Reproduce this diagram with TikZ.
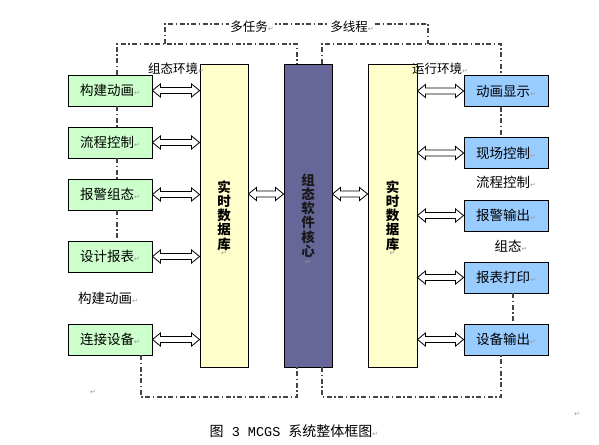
\documentclass[tikz,border=0pt]{standalone}
\usepackage{fontspec}
\setmainfont{Noto Sans CJK SC}
\newfontfamily\dejavu{DejaVu Sans}
\newfontfamily\monofam{Liberation Mono}
\usetikzlibrary{calc}
\definecolor{boxgreen}{HTML}{CCFFCC}
\definecolor{boxblue}{HTML}{99CCFF}
\definecolor{dbyellow}{HTML}{FFFFCC}
\definecolor{corepurple}{HTML}{666699}
\definecolor{dashgray}{HTML}{444444}
\newcommand\retmark{{\dejavu\color{gray!80}\fontsize{7}{7}\selectfont ↵}}
\tikzset{
  lbox/.style={draw=black, line width=0.9pt, fill=boxgreen, minimum width=84pt, minimum height=31pt, inner sep=0pt, font=\fontsize{13.5}{14}\selectfont},
  rbox/.style={lbox, fill=boxblue},
  dbbox/.style={draw=black, line width=0.9pt, fill=dbyellow, minimum width=48pt, minimum height=303pt, inner sep=0pt, align=center, font=\fontsize{13.5}{14.2}\selectfont\bfseries},
  corebox/.style={dbbox, fill=corepurple, text=black!90},
  blockarrow/.style={draw=black, fill=white, line width=0.8pt, line join=miter,
    to path={let \p1=(\tikztostart), \p2=(\tikztotarget) in
      -- (\x1+8pt,\y1+6.5pt) -- (\x1+8pt,\y1+3pt) -- (\x2-8pt,\y1+3pt) -- (\x2-8pt,\y1+6.5pt)
      -- (\x2,\y1) -- (\x2-8pt,\y1-6.5pt) -- (\x2-8pt,\y1-3pt) -- (\x1+8pt,\y1-3pt)
      -- (\x1+8pt,\y1-6.5pt) -- cycle}},
  dashdot/.style={draw=dashgray, line width=1.1pt, dash pattern=on 5pt off 2.5pt on 1.5pt off 2.5pt},
  lbl/.style={inner sep=1pt, font=\fontsize{12.5}{13}\selectfont},
  plain/.style={inner sep=1pt, font=\fontsize{13.5}{14}\selectfont}
}
\begin{document}
\begin{tikzpicture}[x=1pt,y=-1pt]
\useasboundingbox (0,0) rectangle (599,444);
% databases and core
\node[dbbox] (db1) at (224,215.5) {实\\时\\数\\据\\库};
\node[corebox] (core) at (308,215.5) {组\\态\\软\\件\\核\\心};
\node[dbbox, minimum width=49pt] (db2) at (392.5,215.5) {实\\时\\数\\据\\库};
\node (m1) at (224,253) {\retmark};
\node (m2) at (308,262) {\retmark};
\node (m3) at (392.5,253) {\retmark};
% left boxes
\node[lbox] (b1) at (110,90.5) {构建动画\retmark};
\node[lbox] (b2) at (110,142.5) {流程控制\retmark};
\node[lbox] (b3) at (110,194.5) {报警组态\retmark};
\node[lbox] (b4) at (110,256.5) {设计报表\retmark};
\node[lbox] (b5) at (110,339.5) {连接设备\retmark};
% right boxes
\node[rbox] (r1) at (506,91) {动画显示\retmark};
\node[rbox] (r2) at (506,153) {现场控制\retmark};
\node[rbox] (r3) at (506,215.5) {报警输出\retmark};
\node[rbox] (r4) at (506,277.5) {报表打印\retmark};
\node[rbox] (r5) at (506,339.5) {设备输出\retmark};
% arrows
\foreach \b in {b1,b2,b3,b4,b5}{
  \draw[blockarrow] (\b.east) to (\b.east -| db1.west);
}
\foreach \r in {r1,r2,r3,r4,r5}{
  \draw[blockarrow] (\r.west -| db2.east) to (\r.west);
}
\coordinate (mid) at (0,194);
\draw[blockarrow] (db1.east |- mid) to (core.west |- mid);
\draw[blockarrow] (core.east |- mid) to (db2.west |- mid);
% dash-dot loops
\draw[dashdot] (165,44) -- (165,24) -- (428,24) -- (428,44);
\draw[dashdot] (117,0 |- b1.north) -- (117,44) -- (297,44) -- (297,0 |- core.north);
\draw[dashdot] (322,0 |- core.north) -- (322,44) -- (501,44) -- (501,0 |- r1.north);
\draw[dashdot] (117,0 |- b1.south) -- (117,0 |- b2.north);
\draw[dashdot] (117,0 |- b2.south) -- (117,0 |- b3.north);
\draw[dashdot] (117,0 |- b3.south) -- (117,0 |- b4.north);
\draw[dashdot] (501,0 |- r1.south) -- (501,0 |- r2.north);
\draw[dashdot] (513,0 |- r4.south) -- (513,0 |- r5.north);
\draw[dashdot] (141,0 |- b5.south) -- (141,397) -- (297,397) -- (297,0 |- core.south);
\draw[dashdot] (322,0 |- core.south) -- (322,397) -- (501,397) -- (501,0 |- r5.south);
% labels
\node[lbl, fill=white] (t1) at (252,27) {多任务\retmark};
\node[lbl, fill=white] (t2) at (352,27) {多线程\retmark};
\node[lbl] (t3) at (176,69) {组态环境\retmark};
\node[lbl] (t4) at (440,69) {运行环境\retmark};
\node[plain] (t5) at (506,182) {流程控制\retmark};
\node[plain] (t6) at (511,246) {组态\retmark};
\node[plain] (t7) at (108,298) {构建动画\retmark};
\node (m4) at (93,392) {\retmark};
\node (m5) at (577,414) {\retmark};
\node[inner sep=0pt, font=\fontsize{14}{15}\selectfont] (cap) at (294,431) {图{\monofam\fontsize{13.5}{14}\selectfont\ 3 MCGS }系统整体框图\retmark};
\end{tikzpicture}
\end{document}
